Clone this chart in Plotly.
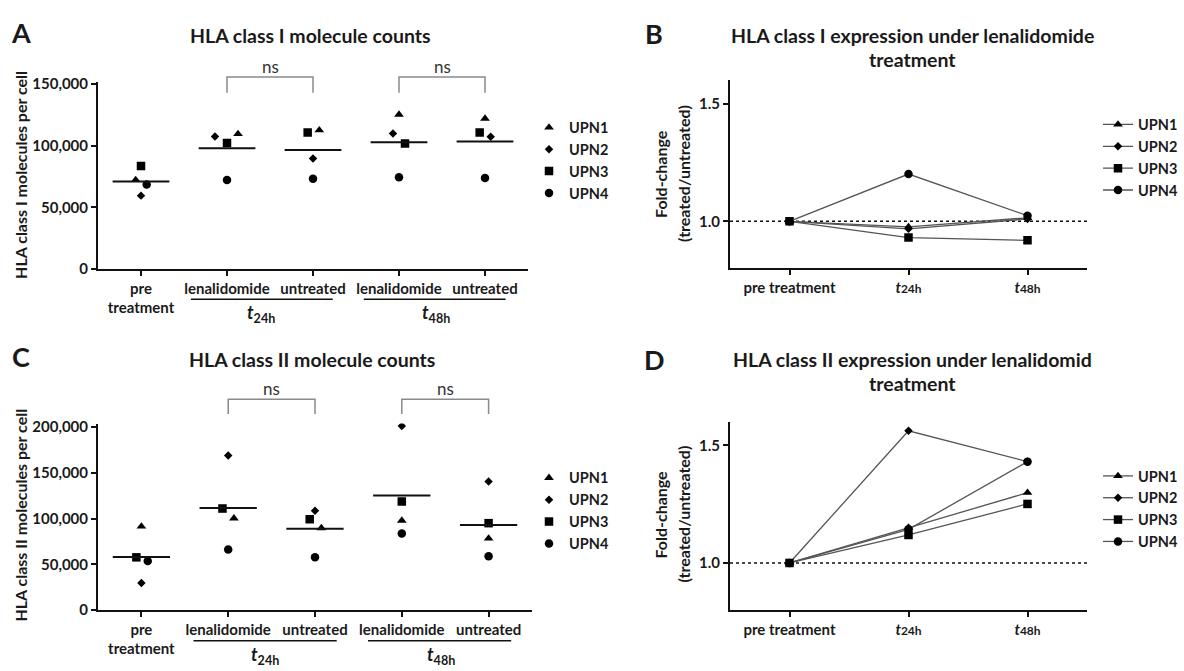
import numpy as np
import plotly.graph_objects as go

W, H = 1184, 671
FONT = "Lato"
INK = "#1a1a1a"

# ---- data -------------------------------------------------------------
patients = ["UPN1", "UPN2", "UPN3", "UPN4"]
count_groups = ["pre<br>treatment", "lenalidomide", "untreated", "lenalidomide", "untreated"]
fold_groups = ["pre treatment",
               "<i>t</i><span style='font-size:12px'>24h</span>",
               "<i>t</i><span style='font-size:12px'>48h</span>"]
time_labels = ["<i>t</i><sub>24h</sub>", "<i>t</i><sub>48h</sub>"]

# HLA class I molecules per cell
hla1_upn1 = [72200, 109600, 112600, 125300, 122100]
hla1_upn2 = [59500, 107500, 89700, 109900, 107300]
hla1_upn3 = [83600, 102200, 110700, 101900, 110700]
hla1_upn4 = [68500, 72200, 73200, 74400, 73800]

# HLA class II molecules per cell
hla2_upn1 = [91400, 100300, 89700, 97800, 78300]
hla2_upn2 = [29500, 169000, 108500, 201400, 140500]
hla2_upn3 = [57600, 111000, 99300, 118800, 95000]
hla2_upn4 = [53700, 66200, 57600, 83600, 58700]

# fold-change (treated/untreated), HLA class I
fc1_upn1 = [1.0, 0.976, 1.015]
fc1_upn2 = [1.0, 0.968, 1.010]
fc1_upn3 = [1.0, 0.931, 0.919]
fc1_upn4 = [1.0, 1.201, 1.024]

# fold-change (treated/untreated), HLA class II
fc2_upn1 = [1.0, 1.151, 1.299]
fc2_upn2 = [1.0, 1.562, 1.431]
fc2_upn3 = [1.0, 1.119, 1.251]
fc2_upn4 = [1.0, 1.143, 1.431]

# ---- styling ----------------------------------------------------------
symbols = ["triangle-up", "diamond", "square", "circle"]
dot_sizes = [8.5, 6.5, 8.5, 8.5]
line_sizes = [8.5, 6.5, 8.5, 8.5]

# horizontal dodge (category units) so overlapping points stay visible
dodge_a = [[-0.062, 0.128, 0.073, 0, 0],
           [0, -0.14, 0, -0.07, 0.066],
           [0, 0, -0.062, 0.07, -0.062],
           [0.066, 0, 0, 0, 0]]
dodge_c = [[0, 0.066, 0.073, 0, 0],
           [0, 0, 0, 0, 0],
           [-0.058, -0.066, -0.061, 0, 0],
           [0.073, 0, 0, 0, 0]]


def px_x(p):
    return p / W


def px_y(p):
    return 1 - p / H


fig = go.Figure()

count_sets = [
    ("x", "y", "legend", [hla1_upn1, hla1_upn2, hla1_upn3, hla1_upn4], dodge_a),
    ("x3", "y3", "legend3", [hla2_upn1, hla2_upn2, hla2_upn3, hla2_upn4], dodge_c),
]
for xa, ya, leg, series, dodge in count_sets:
    for k, vals in enumerate(series):
        xs = np.arange(len(vals)) + np.array(dodge[k])
        fig.add_trace(go.Scatter(
            x=xs, y=vals, mode="markers", name=patients[k],
            xaxis=xa, yaxis=ya, legend=leg, legendgroup=leg + patients[k],
            marker=dict(symbol=symbols[k], size=dot_sizes[k], color="black"),
        ))
    # group means as short horizontal bars
    means = np.mean(np.array(series), axis=0)
    mx, my = [], []
    for i, m in enumerate(means):
        mx += [i - 0.33, i + 0.33, None]
        my += [m, m, None]
    fig.add_trace(go.Scatter(x=mx, y=my, mode="lines", xaxis=xa, yaxis=ya,
                             line=dict(color="#111", width=2), showlegend=False,
                             hoverinfo="skip"))

fold_sets = [
    ("x2", "y2", "legend2", [fc1_upn1, fc1_upn2, fc1_upn3, fc1_upn4]),
    ("x4", "y4", "legend4", [fc2_upn1, fc2_upn2, fc2_upn3, fc2_upn4]),
]
for xa, ya, leg, series in fold_sets:
    for k, vals in enumerate(series):
        fig.add_trace(go.Scatter(
            x=list(range(len(vals))), y=vals, mode="lines+markers", name=patients[k],
            xaxis=xa, yaxis=ya, legend=leg, legendgroup=leg + patients[k],
            line=dict(color="#555", width=1.3),
            marker=dict(symbol=symbols[k], size=line_sizes[k], color="black"),
        ))

# ---- axes -------------------------------------------------------------
axis_common = dict(showline=True, linecolor="#111", linewidth=2, ticks="outside",
                   ticklen=5, tickwidth=2, tickcolor="#111", showgrid=False,
                   zeroline=False, fixedrange=True)
xtickfont = dict(family=FONT, size=15, color=INK, weight="bold")
ytickfont = dict(family=FONT, size=15, color=INK, weight="bold")

panels = {
    "": dict(xd=(98, 528), yd=(267.3, 76), xr=[-0.5, 4.5], yr=[0, 151600]),
    "3": dict(xd=(98, 532), yd=(616.7, 425.7), xr=[-0.5, 4.5], yr=[0, 204000]),
    "2": dict(xd=(730, 1087), yd=(266.7, 74), xr=[-0.5, 2.5], yr=[0.8, 1.6]),
    "4": dict(xd=(730, 1087), yd=(616.7, 424), xr=[-0.5, 2.5], yr=[0.8, 1.6]),
}
for key, p in panels.items():
    xname, yname = "xaxis" + key, "yaxis" + key
    anchor_x, anchor_y = "y" + key, "x" + key
    if key in ("", "3"):
        xt = dict(tickvals=list(range(5)), ticktext=count_groups)
        step = 50000
        yt = dict(tickvals=list(range(0, int(p["yr"][1]) + 1, step)), tickformat=",d")
    else:
        xt = dict(tickvals=[0, 1, 2], ticktext=fold_groups)
        yt = dict(tickvals=[1.0, 1.5], tickformat=".1f")
    fig.update_layout({
        xname: dict(domain=[px_x(p["xd"][0]), px_x(p["xd"][1])], range=p["xr"],
                    anchor=anchor_x, tickfont=xtickfont, **xt, **axis_common),
        yname: dict(domain=[px_y(p["yd"][0]), px_y(p["yd"][1])], range=p["yr"],
                    anchor=anchor_y, tickfont=ytickfont, **yt, **axis_common),
    })

# ---- annotations and shapes ------------------------------------------
ann = []
shapes = []


def text(x, y, s, size, bold=True, angle=0, xref="paper", color=INK, xanchor="center"):
    ann.append(dict(x=x, y=y, xref=xref, yref="paper", text=s, showarrow=False,
                    textangle=angle, xanchor=xanchor, yanchor="middle",
                    font=dict(family=FONT, size=size, color=color,
                              weight="bold" if bold else "normal")))


# panel letters
for letter, lx, ly in [("A", 21, 25), ("B", 654, 26), ("C", 21, 357), ("D", 654, 360)]:
    text(px_x(lx), px_y(ly), letter, 27)

# titles
text(px_x(310), px_y(28), "HLA class I molecule counts", 19.5)
text(px_x(912), px_y(28), "HLA class I expression under lenalidomide", 19.5)
text(px_x(912), px_y(53), "treatment", 19.5)
text(px_x(312), px_y(360), "HLA class II molecule counts", 19.5)
text(px_x(912), px_y(360), "HLA class II expression under lenalidomid", 19.5)
text(px_x(912), px_y(385), "treatment", 19.5)

# y-axis titles
text(px_x(21), px_y(171), "HLA class I molecules per cell", 16, angle=-90)
text(px_x(21), px_y(520), "HLA class II molecules per cell", 16, angle=-90)
for y0 in (170, 519):
    text(px_x(661), px_y(y0), "Fold-change", 16, angle=-90)
    text(px_x(684), px_y(y0), "(treated/untreated)", 16, angle=-90)

# significance brackets, time-point group lines and labels
for xa, y_top, y_bot, y_ns, y_line, y_lab, spans in [
    ("x", 70.7, 86.7, 60, 298.3, 313, [(0.58, 2.23, 1.4), (2.59, 4.24, 3.43)]),
    ("x3", 400.7, 416, 390, 648.3, 663, [(0.6, 2.25, 1.42), (2.61, 4.26, 3.45)]),
]:
    for a, b in [(1, 2), (3, 4)]:
        shapes.append(dict(type="path", xref=xa, yref="paper",
                           path=f"M {a},{px_y(y_bot)} L {a},{px_y(y_top)} L {b},{px_y(y_top)} L {b},{px_y(y_bot)}",
                           line=dict(color="#8a8a8a", width=1.5)))
        text((a + b) / 2, px_y(y_ns), "ns", 17, bold=False, xref=xa, color="#333")
    for (s0, s1, sc), lab in zip(spans, time_labels):
        shapes.append(dict(type="line", xref=xa, yref="paper", x0=s0, x1=s1,
                           y0=px_y(y_line), y1=px_y(y_line), line=dict(color="#111", width=1.5)))
        text(sc, px_y(y_lab), lab, 18, xref=xa)

# reference line at fold-change 1.0
for xa, ya in [("x2", "y2"), ("x4", "y4")]:
    shapes.append(dict(type="line", xref=xa + " domain", yref=ya, x0=0, x1=1, y0=1.0, y1=1.0,
                       line=dict(color="#111", width=1.5, dash="dot"), layer="below"))

legend_common = dict(font=dict(family=FONT, size=14.5, color=INK, weight="bold"),
                     bgcolor="rgba(0,0,0,0)", tracegroupgap=0, itemwidth=30,
                     xanchor="left", yanchor="top")
fig.update_layout(
    legend=dict(x=px_x(529), y=px_y(106), **legend_common),
    legend2=dict(x=px_x(1098), y=px_y(103), **legend_common),
    legend3=dict(x=px_x(529), y=px_y(465), **legend_common),
    legend4=dict(x=px_x(1098), y=px_y(463), **legend_common),
)

fig.update_layout(width=W, height=H, margin=dict(l=0, r=0, t=0, b=0),
                  paper_bgcolor="white", plot_bgcolor="white", showlegend=True,
                  annotations=ann, shapes=shapes, hovermode=False)

fig.write_html("out.html")
